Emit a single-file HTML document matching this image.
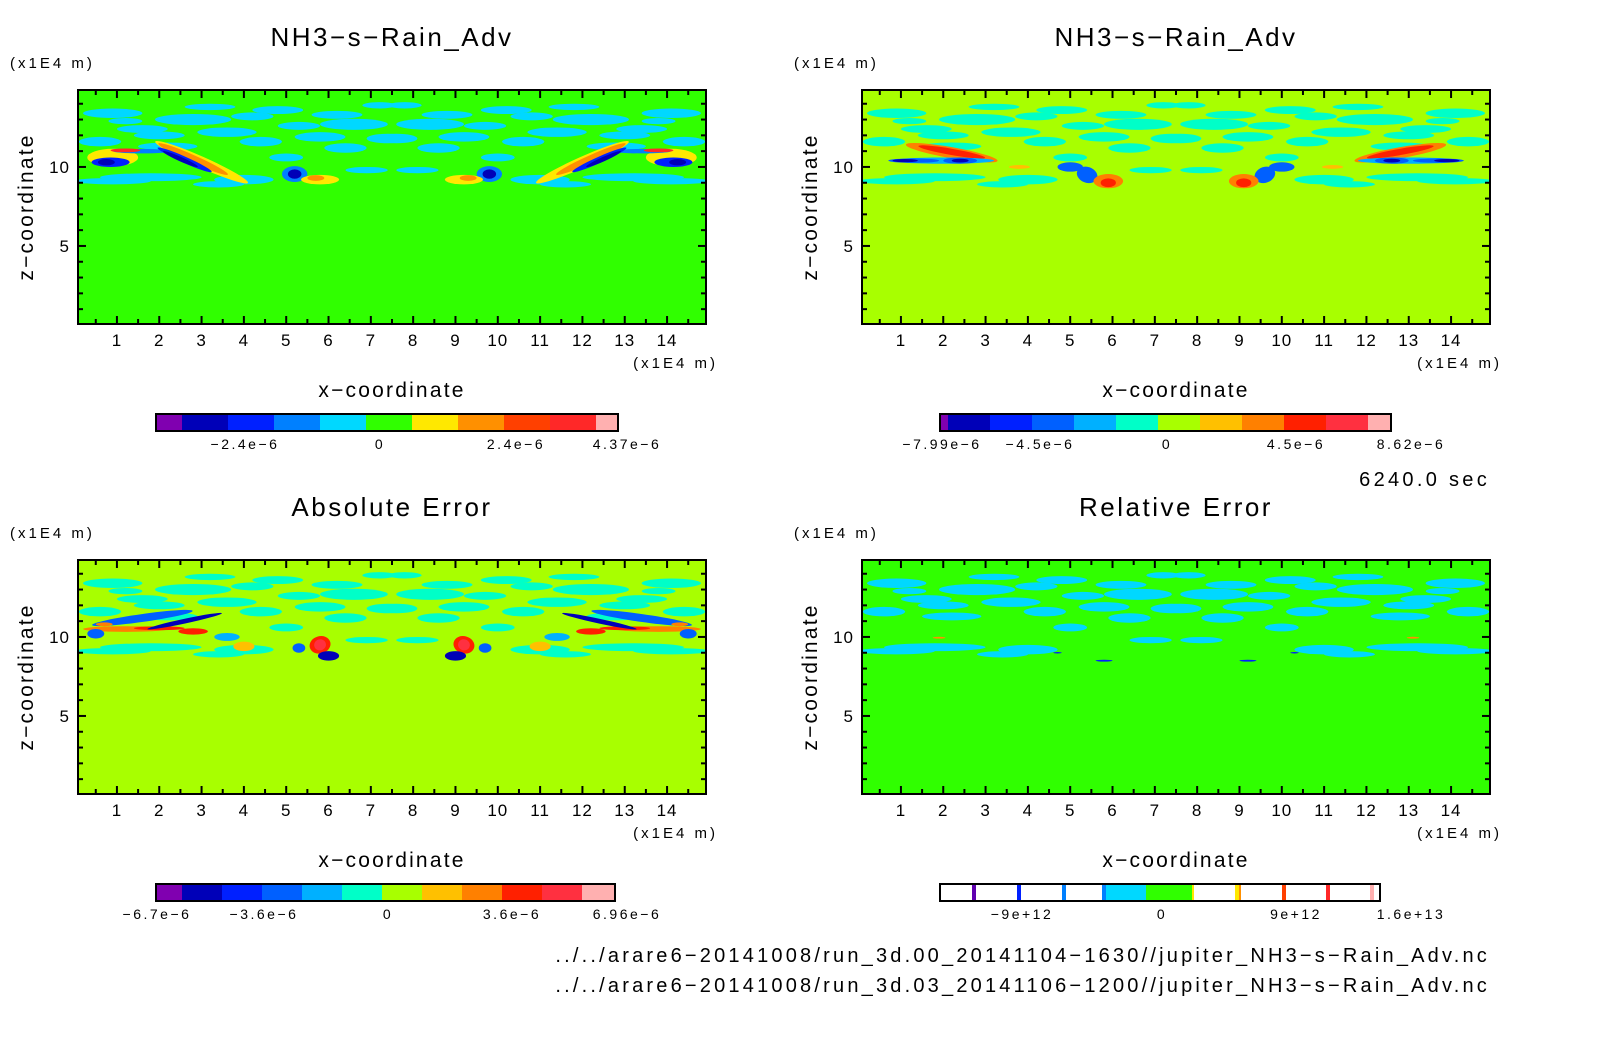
<!DOCTYPE html>
<html><head><meta charset="utf-8">
<style>
body{margin:0;background:#fff;width:1604px;height:1054px;overflow:hidden;font-family:"Liberation Sans",sans-serif}
svg{position:absolute;left:0;top:0}
text{font-family:"Liberation Sans",sans-serif;fill:#000}
</style></head>
<body>
<svg id="s" width="1604" height="1054"></svg>
<script>
// ---- data ----
const xTicks=[1,2,3,4,5,6,7,8,9,10,11,12,13,14];
const zTicks=[5,10];
const palTL=["#8000b0","#0000b8","#0020ff","#0080ff","#00d8ff","#30ff00","#ffe800","#ff9000","#ff4000","#ff2828","#ffb0b0"];
const palTR=["#8000b0","#0000b8","#0020ff","#0060ff","#00b0ff","#00ffc8","#a8ff00","#ffc000","#ff8000","#ff2000","#ff3040","#ffb0b0"];
const cbLabTL=["-2.4e-6","0","2.4e-6","4.37e-6"];
const cbLabTR=["-7.99e-6","-4.5e-6","0","4.5e-6","8.62e-6"];
const cbLabBL=["-6.7e-6","-3.6e-6","0","3.6e-6","6.96e-6"];
const cbLabBR=["-9e+12","0","9e+12","1.6e+13"];
// blobs: x, z, rx, rz, colour index, angle (left half; mirrored about x=7.5)
const bandX=[0.9,2.8,4.8,6.6,1.6,3.6,5.8,0.6,2.2,4.4,6.4,1.2,3.2,5.3,7.2,1.8,4.0,6.9,0.9,3.4,7.4,5.0,2.0,6.2,4.2];
const bandZ=[13.4,13.0,13.6,12.7,12.4,12.2,11.9,11.6,11.3,11.6,11.2,12.9,13.8,12.6,13.9,9.35,9.2,9.8,9.1,8.9,11.8,10.6,12.0,13.3,13.2];
const bandRX=[0.7,0.9,0.6,0.8,0.6,0.7,0.6,0.5,0.7,0.5,0.5,0.4,0.6,0.5,0.4,1.2,0.7,0.5,0.9,0.6,0.5,0.4,0.6,0.6,0.5];
const bandRZ=[0.3,0.35,0.25,0.35,0.25,0.3,0.3,0.3,0.25,0.3,0.3,0.2,0.2,0.25,0.2,0.25,0.3,0.2,0.2,0.2,0.3,0.25,0.25,0.25,0.25];
const tlX=[0.9,1.6,0.85,0.75,3.0,2.8,2.6,2.5,1.2,5.2,5.2,5.8,5.7];
const tlZ=[10.6,11.0,10.3,10.3,10.3,10.5,10.45,10.5,11.05,9.55,9.55,9.2,9.3];
const tlRX=[0.6,0.7,0.45,0.2,1.2,0.9,0.7,0.45,0.35,0.3,0.16,0.45,0.2];
const tlRZ=[0.55,0.14,0.3,0.2,0.35,0.25,0.2,0.14,0.12,0.5,0.3,0.3,0.18];
const tlC=[6,3,2,1,6,7,2,1,9,3,1,6,7];
const tlA=[0,0,0,0,24,24,24,24,0,0,0,0,0];
const trX=[2.2,2.2,2.0,1.3,1.1,2.4,2.4,5.0,5.4,5.9,5.9,3.8];
const trZ=[10.9,10.95,10.4,10.4,10.4,10.4,10.4,10.0,9.5,9.1,9.0,10.0];
const trRX=[1.1,0.8,1.2,0.6,0.3,0.4,0.2,0.3,0.25,0.35,0.18,0.25];
const trRZ=[0.35,0.2,0.2,0.14,0.1,0.2,0.12,0.3,0.5,0.45,0.28,0.12];
const trC=[8,9,4,3,1,3,1,3,3,8,9,7];
const trA=[10,10,0,0,0,0,0,0,20,0,0,0];
const blX=[1.6,1.2,2.0,2.8,2.6,0.7,0.5,4.0,5.8,5.8,6.0,5.3,3.6];
const blZ=[11.2,10.5,10.55,10.35,11.0,10.8,10.2,9.4,9.5,9.5,8.8,9.3,10.0];
const blRX=[1.2,1.0,0.6,0.35,0.9,0.2,0.2,0.25,0.25,0.14,0.25,0.15,0.3];
const blRZ=[0.25,0.18,0.12,0.2,0.15,0.12,0.3,0.3,0.55,0.35,0.3,0.3,0.25];
const blC=[3,8,9,9,1,8,3,7,9,10,1,3,4];
const blA=[-8,0,0,0,-12,0,0,0,-15,-15,0,0,0];
const brX=[1.9,5.8,4.7];
const brZ=[9.95,8.5,9.0];
const brRX=[0.15,0.2,0.1];
const brRZ=[0.06,0.06,0.05];
const brC=[7,2,2];

// ---- drawing ----
const S=document.getElementById('s');const NS="http://www.w3.org/2000/svg";
function mk(t,a,p){const e=document.createElementNS(NS,t);for(const k in a)e.setAttribute(k,a[k]);(p||S).appendChild(e);return e;}
function txt(x,y,s,size,anchor,p,rot,ls){const e=mk('text',{x:x,y:y,'font-size':size,'text-anchor':anchor||'middle','letter-spacing':ls||0},p);if(rot)e.setAttribute('transform',rot);e.textContent=s;return e;}
const W=628,H=234,X0=0.08,X1=14.92,Z0=0.06,Z1=14.87;
function panel(name,px,py,bg,pal,bandC,X,Z,RX,RZ,C,A,title,cbx,cbPal,cbW,cbLabels,cbLabX){
  const g=mk('g',{});
  
  
  const xs=v=>px+(v-X0)/(X1-X0)*W, zs=v=>py+H-(v-Z0)/(Z1-Z0)*H;
  const cid='c'+name;const cp=mk('clipPath',{id:cid},g);mk('rect',{x:px,y:py,width:W,height:H},cp);
  const f=mk('g',{'clip-path':'url(#'+cid+')'},g);
  const bgr=mk('rect',{x:px,y:py,width:W,height:H,fill:bg},f);
  
  
  function blob(x,z,rx,rz,col,a){
    const e=mk('ellipse',{cx:xs(x),cy:zs(z),rx:rx/(X1-X0)*W,ry:rz/(Z1-Z0)*H,fill:col,transform:'rotate('+a+' '+xs(x)+' '+zs(z)+')'},f);
    
    
  }
  for(let m=0;m<2;m++){
    for(let i=0;i<bandX.length;i++){const x=m?15-bandX[i]:bandX[i];blob(x,bandZ[i],bandRX[i],bandRZ[i],bandC,0);}
    for(let i=0;i<X.length;i++){const x=m?15-X[i]:X[i];blob(x,Z[i],RX[i],RZ[i],pal[C[i]],m?-(A[i]||0):(A[i]||0));}
  }
  mk('rect',{x:px,y:py,width:W,height:H,fill:'none',stroke:'#000','stroke-width':2},g);
  for(let v=0.5;v<15;v+=0.5){const big=Number.isInteger(v),L=big?8:5;
    mk('line',{x1:xs(v),x2:xs(v),y1:py+H,y2:py+H-L,stroke:'#000','stroke-width':2},g);
    mk('line',{x1:xs(v),x2:xs(v),y1:py,y2:py+L,stroke:'#000','stroke-width':2},g);}
  for(let v=1;v<15;v++){const L=v%5==0?8:5;
    mk('line',{x1:px,x2:px+L,y1:zs(v),y2:zs(v),stroke:'#000','stroke-width':2},g);
    mk('line',{x1:px+W,x2:px+W-L,y1:zs(v),y2:zs(v),stroke:'#000','stroke-width':2},g);}
  xTicks.forEach(v=>{const t=txt(xs(v),py+H+22,String(v),17,'middle',g,null,1);});
  zTicks.forEach(v=>{const t=txt(px-8,zs(v)+6,String(v),17,'end',g,null,1);});
  let t=txt(px+W/2,py-44,title,26,'middle',g,null,2.5);
  t=txt(px-68,py-22,'(x1E4 m)',15,'start',g,null,3);
  t=txt(px+W+12,py+H+44,'(x1E4 m)',15,'end',g,null,3);
  t=txt(px+W/2,py+H+73,'x\u2212coordinate',21,'middle',g,null,2.2);
  t=txt(px-45,py+H/2,'z\u2212coordinate',21,'middle',g,'rotate(-90 '+(px-45)+' '+(py+H/2)+')',2.2);
  const cy=py+H+90;let cx=cbx;
  const cb=mk('g',{},g);
  cbPal.forEach((c,i)=>{const w=cbW[i];mk('rect',{x:cx,y:cy,width:w,height:17,fill:c},cb);cx+=w;});
  mk('rect',{x:cbx,y:cy,width:cx-cbx,height:17,fill:'none',stroke:'#000','stroke-width':2},cb);
  cbLabels.forEach((s,i)=>{const l=txt(cbLabX[i],cy+35,s.replace(/-/g,'\u2212'),14,'middle',cb,null,2.5);});
}
const w11=[26,46,46,46,46,46,46,46,46,46,22];
panel('panel-top-left',78,90,'#30ff00',palTL,'#00d8ff',tlX,tlZ,tlRX,tlRZ,tlC,tlA,'NH3\u2212s\u2212Rain_Adv',156,palTL,w11,cbLabTL,[245,380,516,627]);
const w12=[8,42,42,42,42,42,42,42,42,42,42,23];
panel('panel-top-right',862,90,'#a8ff00',palTR,'#00ffc8',trX,trZ,trRX,trRZ,trC,trA,'NH3\u2212s\u2212Rain_Adv',940,palTR,w12,cbLabTR,[942,1040,1167,1296,1411]);
const w12b=[26,40,40,40,40,40,40,40,40,40,40,33];
panel('panel-bottom-left',78,560,'#a8ff00',palTR,'#00ffc8',blX,blZ,blRX,blRZ,blC,blA,'Absolute Error',156,palTR,w12b,cbLabBL,[157,264,388,512,627]);
panel('panel-bottom-right',862,560,'#30ff00',palTL,'#00d8ff',brX,brZ,brRX,brRZ,brC,[0,0,0],'Relative Error',940,
 ["#fff","#6000b0","#fff","#0020ff","#fff","#0080ff","#fff","#0080ff","#00d8ff","#30ff00","#ffe800","#fff","#ffe800","#ff9000","#fff","#ff4000","#fff","#ff2828","#fff","#ffb0b0","#fff"],
 [32,4,41,4,41,4,36,4,40,46,2,41,4,2,41,4,40,4,40,4,6],cbLabBR,[1022,1162,1296,1411]);
let t=txt(1490,486,'6240.0 sec',20,'end',null,null,3.3);
t=txt(1490,962,'../../arare6\u221220141008/run_3d.00_20141104\u22121630//jupiter_NH3\u2212s\u2212Rain_Adv.nc',20,'end',null,null,3.2);
t=txt(1490,992,'../../arare6\u221220141008/run_3d.03_20141106\u22121200//jupiter_NH3\u2212s\u2212Rain_Adv.nc',20,'end',null,null,3.2);
</script>
</body></html>
